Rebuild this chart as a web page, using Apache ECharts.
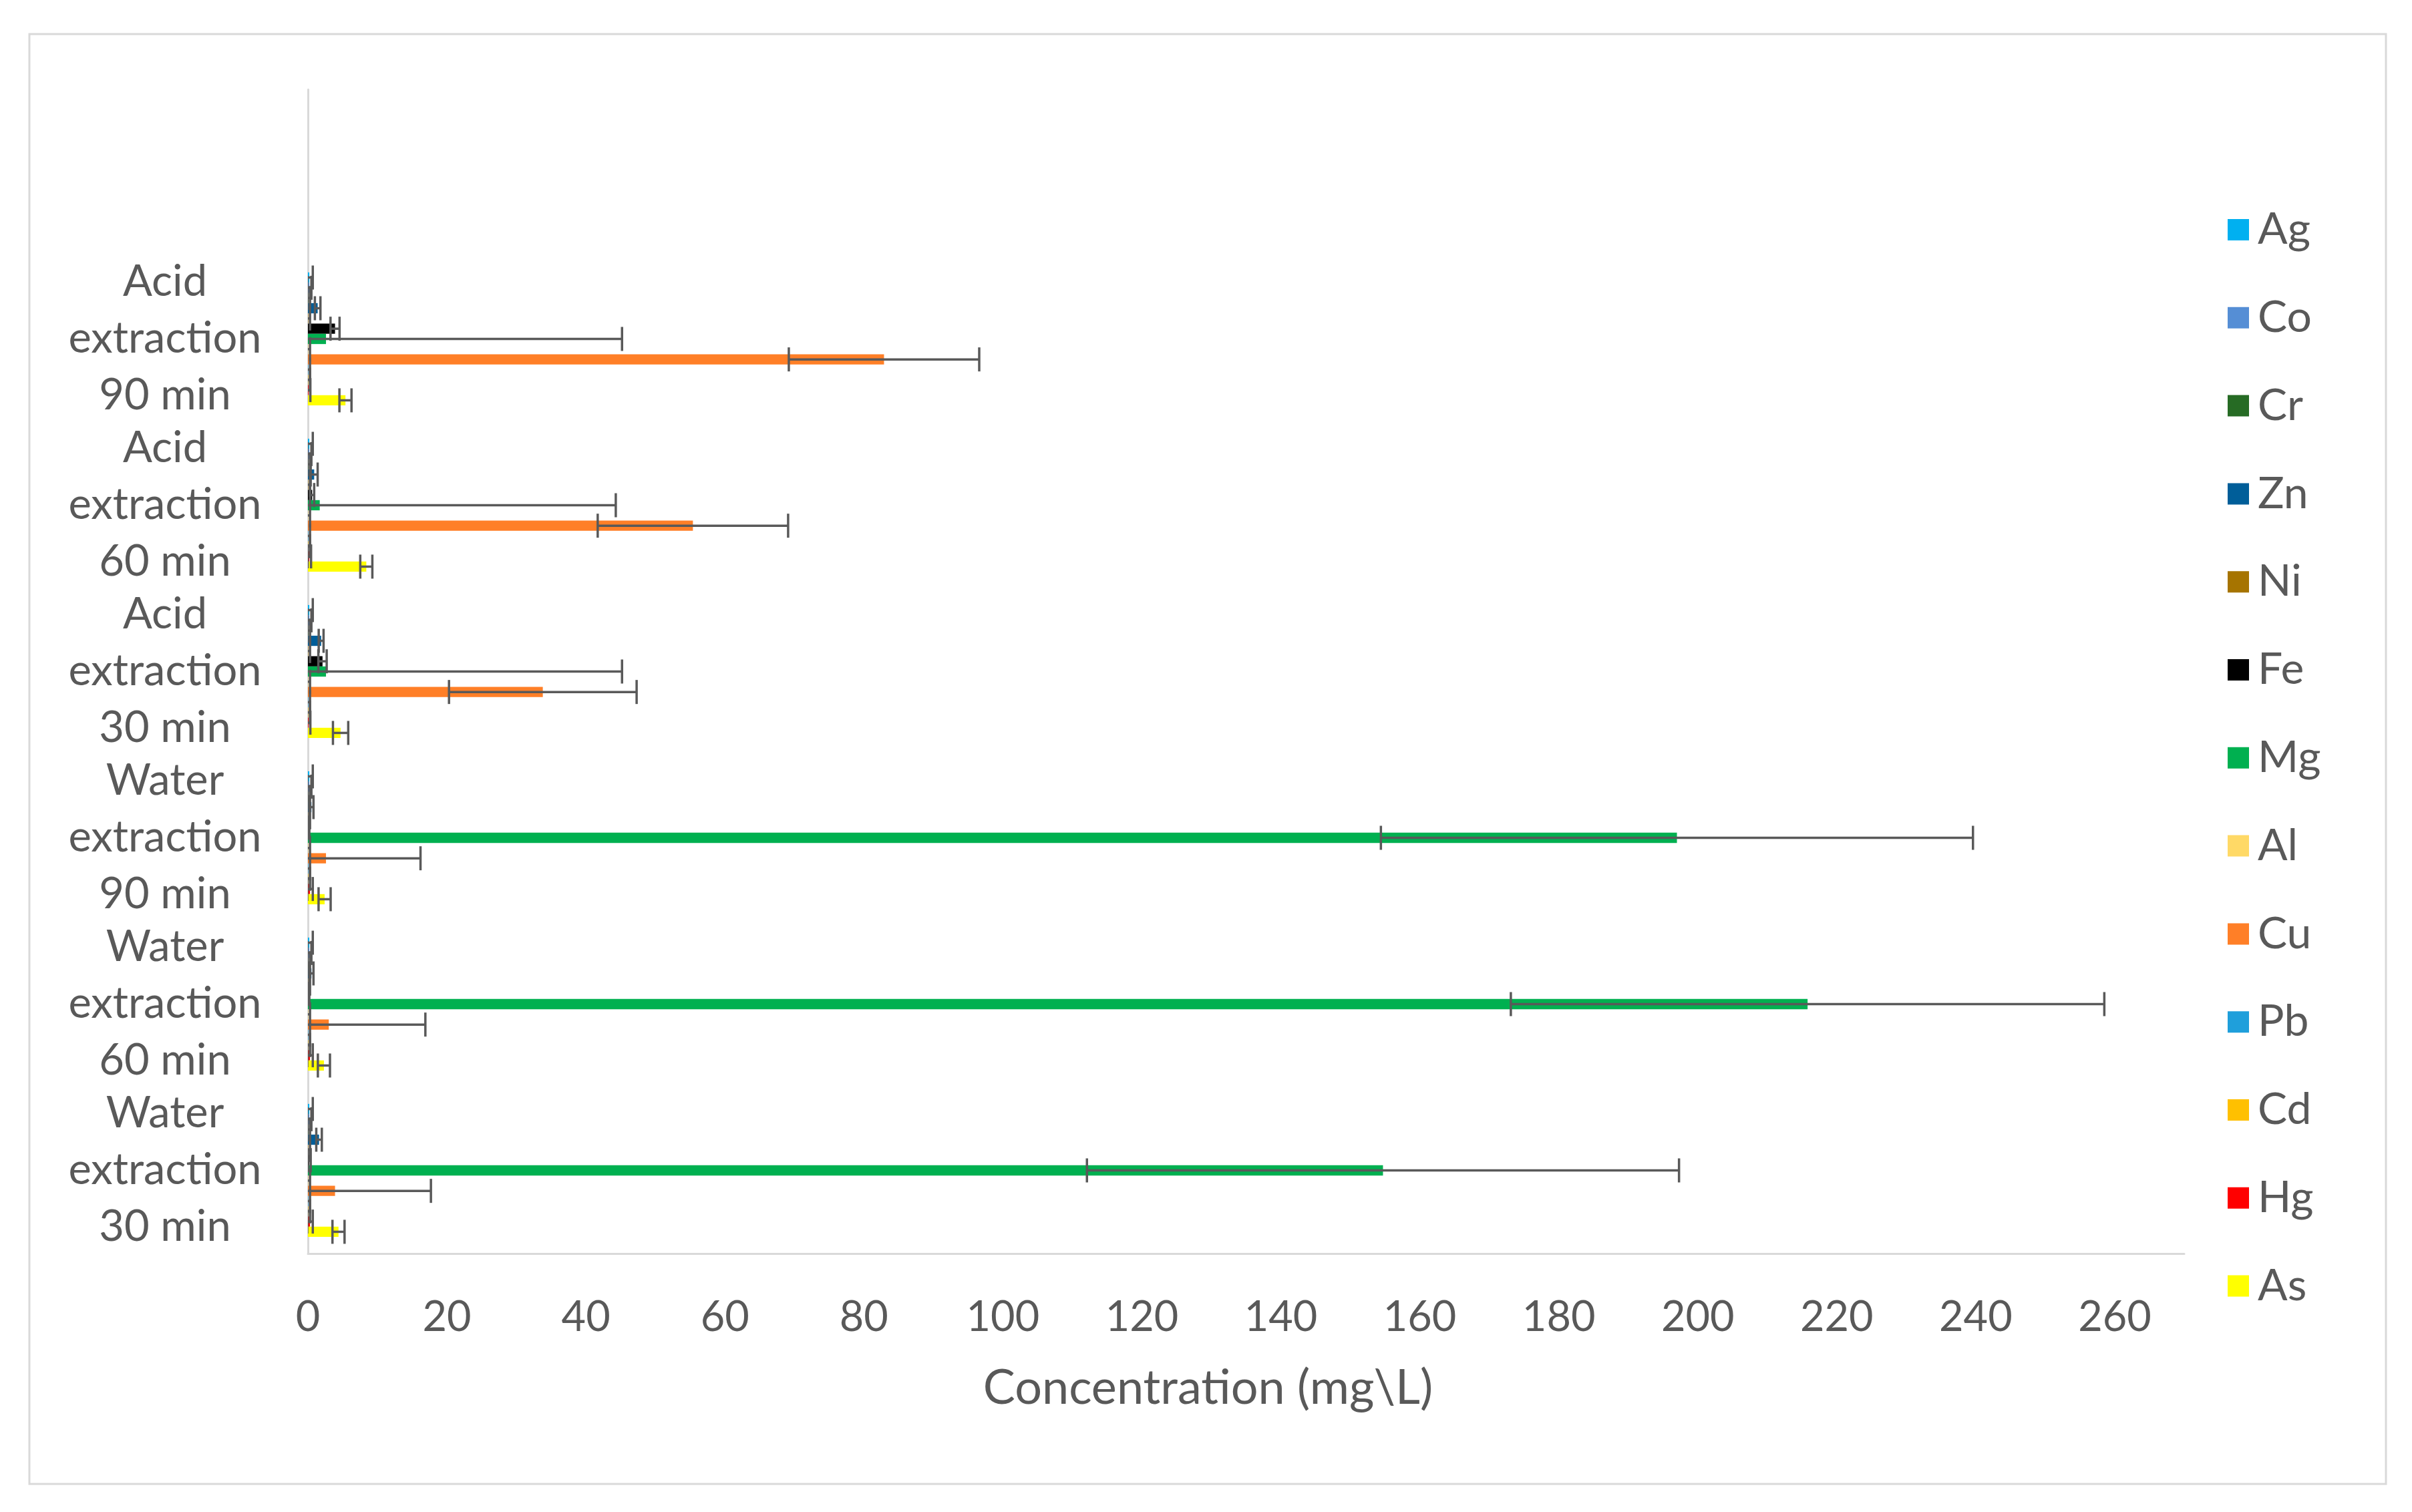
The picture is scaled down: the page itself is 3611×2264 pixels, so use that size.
<!DOCTYPE html>
<html>
<head>
<meta charset="utf-8">
<script src="https://cdn.jsdelivr.net/npm/echarts@6/dist/echarts.min.js"></script>
<style>
html,body{margin:0;padding:0;background:#fff;}
#chart{width:3611px;height:2264px;}
</style>
</head>
<body>
<div id="chart"></div>
<script>
// Categories bottom -> top (top category is empty, as in the original)
const categories = ['Water\nextraction\n30 min', 'Water\nextraction\n60 min', 'Water\nextraction\n90 min',
                    'Acid\nextraction\n30 min', 'Acid\nextraction\n60 min', 'Acid\nextraction\n90 min', ''];
const metals = ['Ag','Co','Cr','Zn','Ni','Fe','Mg','Al','Cu','Pb','Cd','Hg','As'];
const colors = ['#00B0F0','#558ED5','#266B24','#005E99','#A67400','#000000','#00B050','#FFD966','#FF7F27','#1F9FDB','#FFC000','#FF0000','#FFFF00'];

// mean values per group (Water 30, Water 60, Water 90, Acid 30, Acid 60, Acid 90)
const Ag = [0.2, 0.2, 0.2, 0.2, 0.2, 0.2];
const Co = [0.2, 0.2, 0.2, 0.2, 0.2, 0.2];
const Cr = [0.1, 0.1, 0.1, 0.1, 0.1, 0.1];
const Zn = [1.6, 0.5, 0.5, 1.9, 0.9, 1.4];
const Ni = [0.05, 0.05, 0.05, 0.05, 0.05, 0.05];
const Fe = [0.2, 0.1, 0.1, 2.1, 0.6, 3.9];
const Mg = [154.7, 215.8, 197.0, 2.6, 1.7, 2.6];
const Al = [0.05, 0.05, 0.05, 0.05, 0.05, 0.05];
const Cu = [3.9, 3.0, 2.6, 33.8, 55.4, 82.9];
const Pb = [0.05, 0.05, 0.05, 0.05, 0.05, 0.05];
const Cd = [0.05, 0.05, 0.05, 0.05, 0.05, 0.05];
const Hg = [0.3, 0.3, 0.3, 0.1, 0.2, 0.1];
const As = [4.4, 2.3, 2.4, 4.7, 8.4, 5.4];

// standard deviations (error bars)
const AgErr = [0.5, 0.5, 0.5, 0.5, 0.5, 0.5];
const CoErr = [0.3, 0.3, 0.3, 0.3, 0.3, 0.3];
const CrErr = [0.2, 0.2, 0.2, 0.2, 0.2, 0.2];
const ZnErr = [0.4, 0.3, 0.3, 0.35, 0.5, 0.4];
const NiErr = [0.25, 0.25, 0.25, 0.25, 0.25, 0.25];
const FeErr = [0.2, 0.1, 0.1, 0.6, 0.3, 0.65];
const MgErr = [42.6, 42.7, 42.6, 42.6, 42.6, 42.6];
const AlErr = [0.25, 0.25, 0.25, 0.25, 0.25, 0.25];
const CuErr = [13.8, 13.9, 13.6, 13.5, 13.7, 13.7];
const PbErr = [0.25, 0.25, 0.25, 0.25, 0.25, 0.25];
const CdErr = [0.25, 0.25, 0.25, 0.25, 0.25, 0.25];
const HgErr = [0.4, 0.4, 0.4, 0.25, 0.25, 0.25];
const AsErr = [0.87, 0.87, 0.87, 1.1, 0.87, 0.87];

const xTicks = {min: 0, max: 270, interval: 20};

const means = [Ag, Co, Cr, Zn, Ni, Fe, Mg, Al, Cu, Pb, Cd, Hg, As];
const errs = [AgErr, CoErr, CrErr, ZnErr, NiErr, FeErr, MgErr, AlErr, CuErr, PbErr, CdErr, HgErr, AsErr];

const FONT = 'Lato';
const TXT = '#595959';
const CAT_GAP = 0.2;
const N = metals.length;

const barSeries = metals.map((m, i) => ({
  name: m,
  type: 'bar',
  data: means[i].concat([null]),
  itemStyle: {color: colors[i]},
  barGap: '0%',
  barCategoryGap: (CAT_GAP * 100) + '%',
  emphasis: {disabled: true}
}));

const errData = [];
metals.forEach((m, si) => {
  means[si].forEach((v, ci) => { errData.push([ci, si, v, errs[si][ci]]); });
});

const errSeries = {
  type: 'custom',
  name: 'error',
  clip: true,
  silent: true,
  encode: {x: 2, y: 0},
  data: errData,
  z: 5,
  renderItem: function (params, api) {
    const cat = api.value(0), si = api.value(1), v = api.value(2), e = api.value(3);
    const c = api.coord([v, cat]);
    const band = api.size([0, 1])[1];
    const total = band * (1 - CAT_GAP);
    const w = total / N;
    const yc = c[1] - total / 2 + (si + 0.5) * w;
    const lo = api.coord([v - e, cat])[0];
    const hi = api.coord([v + e, cat])[0];
    const cap = 18;
    const st = {stroke: '#595959', lineWidth: 3.5};
    return {
      type: 'group',
      children: [
        {type: 'line', shape: {x1: lo, y1: yc, x2: hi, y2: yc}, style: st},
        {type: 'line', shape: {x1: lo, y1: yc - cap, x2: lo, y2: yc + cap}, style: st},
        {type: 'line', shape: {x1: hi, y1: yc - cap, x2: hi, y2: yc + cap}, style: st}
      ]
    };
  }
};

const chart = echarts.init(document.getElementById('chart'));
chart.setOption({
  backgroundColor: '#ffffff',
  animation: false,
  textStyle: {fontFamily: FONT},
  graphic: [{
    type: 'rect',
    shape: {x: 44, y: 51, width: 3528, height: 2171},
    style: {fill: null, stroke: '#D9D9D9', lineWidth: 3},
    silent: true
  }],
  grid: {left: 461, right: 341, top: 134, bottom: 387, containLabel: false},
  legend: {
    orient: 'vertical',
    left: 3330,
    top: 306,
    data: metals,
    icon: 'rect',
    itemWidth: 32,
    itemHeight: 32,
    itemGap: 65.8,
    textStyle: {fontFamily: FONT, fontSize: 66, color: TXT, lineHeight: 62, padding: [0, 0, 0, 8]},
    selectedMode: false
  },
  xAxis: {
    type: 'value',
    min: xTicks.min,
    max: xTicks.max,
    interval: xTicks.interval,
    splitLine: {show: false},
    axisTick: {show: false},
    axisLine: {show: true, lineStyle: {color: '#D9D9D9', width: 3}},
    axisLabel: {fontFamily: FONT, fontSize: 63, color: TXT, margin: 64, showMaxLabel: false},
    name: 'Concentration (mg\\L)',
    nameLocation: 'middle',
    nameGap: 166,
    nameTextStyle: {fontFamily: FONT, fontSize: 72, color: TXT, padding: [0, 114, 0, 0]}
  },
  yAxis: {
    type: 'category',
    data: categories,
    axisTick: {show: false},
    axisLine: {show: true, lineStyle: {color: '#D9D9D9', width: 3}},
    axisLabel: {fontFamily: FONT, fontSize: 65, color: TXT, align: 'center', margin: 214, lineHeight: 85, interval: 0}
  },
  series: barSeries.concat([errSeries])
});
</script>
</body>
</html>
